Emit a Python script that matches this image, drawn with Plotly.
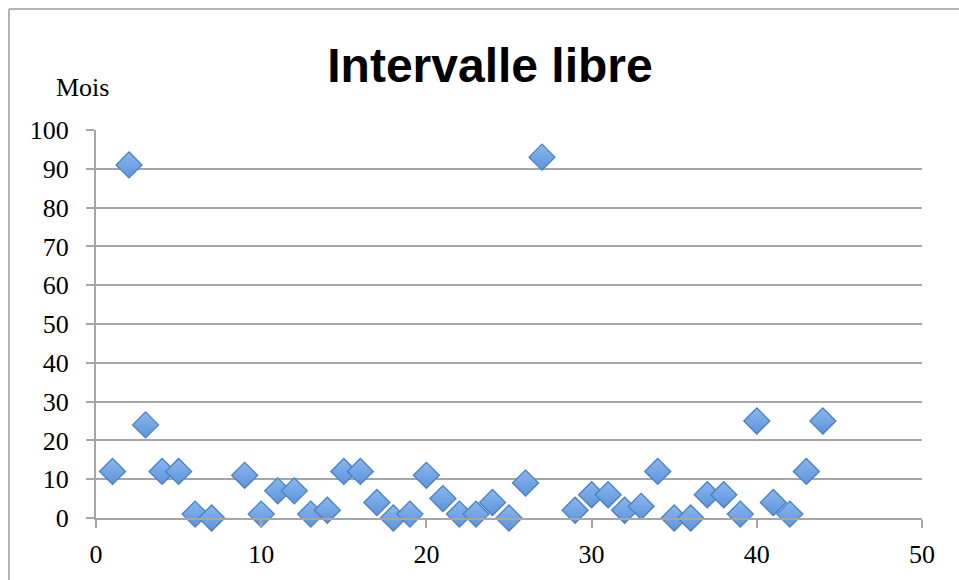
import plotly.graph_objects as go

# Data
case_num = [1, 2, 3, 4, 5, 6, 7, 9, 10, 11, 12, 13, 14, 15, 16, 17, 18, 19, 20,
            21, 22, 23, 24, 25, 26, 27, 29, 30, 31, 32, 33, 34, 35, 36, 37, 38,
            39, 40, 41, 42, 43, 44]
months = [12, 91, 24, 12, 12, 1, 0, 11, 1, 7, 7, 1, 2, 12, 12, 4, 0, 1, 11,
          5, 1, 1, 4, 0, 9, 93, 2, 6, 6, 2, 3, 12, 0, 0, 6, 6,
          1, 25, 4, 1, 12, 25]
x_ticks = [0, 10, 20, 30, 40, 50]
y_ticks = [0, 10, 20, 30, 40, 50, 60, 70, 80, 90, 100]

W, H = 959, 580
L, R, T, B = 96, 922, 130, 518

fig = go.Figure()
fig.add_trace(go.Scatter(
    x=case_num, y=months, mode="markers", cliponaxis=False,
    marker=dict(symbol="diamond", size=20, color="#8ab8f0",
                gradient=dict(type="vertical", color="#5d93da"),
                line=dict(color="#4a7fc2", width=1.3)),
    showlegend=False, hoverinfo="x+y",
))

serif = "Liberation Serif"
grid = "#a6a6a6"

fig.update_layout(
    width=W, height=H,
    margin=dict(l=L, r=W - R, t=T, b=H - B, pad=0, autoexpand=False),
    paper_bgcolor="white", plot_bgcolor="white",
    title=dict(text="<b>Intervalle libre</b>", x=490 / W, xref="container", xanchor="center",
               y=1 - 65 / H, yref="container", yanchor="middle",
               font=dict(family="Liberation Sans", size=48, color="black")),
    xaxis=dict(range=[0, 50], tickvals=x_ticks, showgrid=False, zeroline=False,
               showline=True, linecolor=grid, linewidth=2, automargin=False,
               ticks="outside", ticklen=8, tickwidth=2, tickcolor=grid,
               tickfont=dict(family=serif, size=26, color="black"),
               ticklabelstandoff=4),
    yaxis=dict(range=[0, 100], tickvals=y_ticks, showgrid=True, gridcolor=grid, gridwidth=2,
               zeroline=False, showline=True, linecolor=grid, linewidth=2, automargin=False,
               ticks="outside", ticklen=8, tickwidth=2, tickcolor=grid,
               tickfont=dict(family=serif, size=26, color="black"),
               ticklabelstandoff=12),
    annotations=[dict(text="Mois", xref="paper", yref="paper",
                      x=(82 - L) / (R - L), y=(B - 88) / (B - T),
                      xanchor="center", yanchor="middle", showarrow=False,
                      font=dict(family=serif, size=26, color="black"))],
    shapes=[
        dict(type="line", xref="paper", yref="paper",
             x0=(9 - L) / (R - L), x1=(959 - L) / (R - L),
             y0=(B - 9) / (B - T), y1=(B - 9) / (B - T),
             line=dict(color="#9a9a9a", width=1.5)),
        dict(type="line", xref="paper", yref="paper",
             x0=(9 - L) / (R - L), x1=(9 - L) / (R - L),
             y0=(B - 9) / (B - T), y1=(B - 590) / (B - T),
             line=dict(color="#9a9a9a", width=1.5)),
    ],
)

fig.write_html("out.html")
